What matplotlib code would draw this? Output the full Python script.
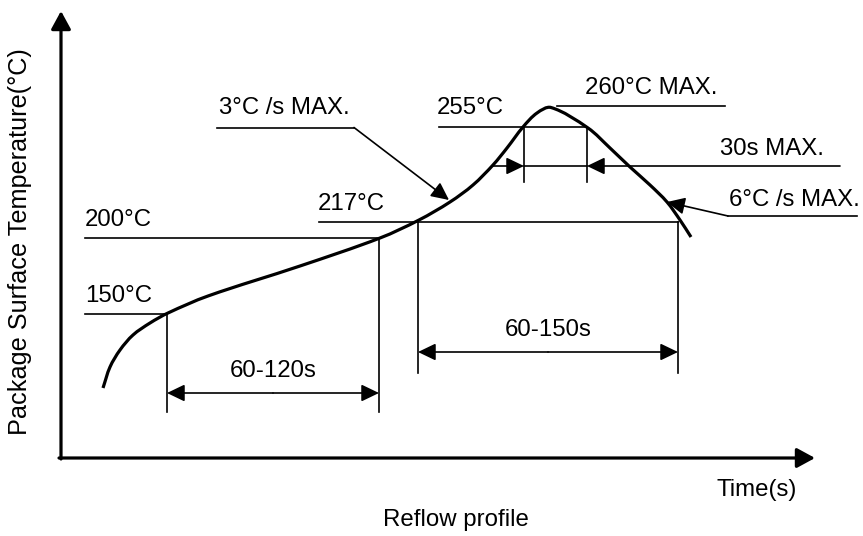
import matplotlib
matplotlib.use("Agg")
import matplotlib.pyplot as plt
from matplotlib.path import Path
from matplotlib.patches import PathPatch
import numpy as np

plt.rcParams['font.family'] = ['Liberation Sans', 'DejaVu Sans']

# Schematic coordinates (diagram units, y grows downward)
curve_x = [103, 110, 120, 133, 150, 168, 208, 300, 380, 419, 450, 473, 493, 507, 523, 537, 551, 588, 610, 630, 650, 667, 680, 691]
curve_y = [388, 367, 350, 335, 323, 313, 296, 266, 238, 220, 202, 185, 165, 148, 127, 113, 107.5, 128, 148, 167, 185, 202, 220, 237]

temp_labels = ["150°C", "200°C", "217°C", "255°C", "260°C MAX."]
temp_levels = [314, 238, 222, 127, 106]
temp_line_x0 = [85, 85, 319, 439, 557]
temp_line_x1 = [167, 379, 678, 587, 725]
temp_text_x = [85, 85, 318, 437, 585]

dur_labels = ["60-120s", "60-150s"]
dur_x0 = [167, 418]
dur_x1 = [379, 678]
dur_y = [393, 352]
dur_bottom = [412, 373]
dur_top = [[314, 238], [222, 222]]

FS = 17.3
FS_Y = 18.2
LW_THIN = 1.2
LW_THICK = 2.3

fig = plt.figure(figsize=(8.63, 5.36), dpi=100)
ax = fig.add_axes([0, 0, 1, 1])
ax.set_xlim(0, 863)
ax.set_ylim(536, 0)
ax.axis('off')

def arrow(p_from, p_to, lw=LW_THIN, hl=0.54, hw=0.26):
    ax.annotate('', xy=p_to, xytext=p_from,
                arrowprops=dict(arrowstyle=f'-|>,head_length={hl},head_width={hw}',
                                mutation_scale=20, lw=lw, color='black',
                                shrinkA=0, shrinkB=0, fc='black'))

# axes
arrow((61, 459), (61, 11), lw=LW_THICK, hl=0.55, hw=0.3)
arrow((59, 458), (815, 458), lw=LW_THICK, hl=0.55, hw=0.3)

# curve: smooth Bezier (chord-length Catmull-Rom tangents) through read points
P = np.column_stack([curve_x, curve_y]).astype(float)
n = len(P)
seg = np.hypot(*np.diff(P, axis=0).T)
t = np.concatenate([[0], np.cumsum(seg)])
T = np.zeros_like(P)
T[0] = (P[1] - P[0]) / (t[1] - t[0])
T[-1] = (P[-1] - P[-2]) / (t[-1] - t[-2])
for i in range(1, n - 1):
    T[i] = (P[i + 1] - P[i - 1]) / (t[i + 1] - t[i - 1])
verts = [P[0]]
codes = [Path.MOVETO]
for i in range(n - 1):
    h = t[i + 1] - t[i]
    verts += [P[i] + T[i] * h / 3, P[i + 1] - T[i + 1] * h / 3, P[i + 1]]
    codes += [Path.CURVE4] * 3
ax.add_patch(PathPatch(Path(verts, codes), fill=False, lw=LW_THICK, ec='black',
                       capstyle='butt', joinstyle='round'))

# temperature levels
for lab, y, x0, x1, tx in zip(temp_labels, temp_levels, temp_line_x0, temp_line_x1, temp_text_x):
    ax.plot([x0, x1], [y, y], color='black', lw=LW_THIN)
    ax.text(tx, y - 18.5, lab, fontsize=FS, ha='left', va='center')

# durations
for lab, x0, x1, y, yb, (t0, t1) in zip(dur_labels, dur_x0, dur_x1, dur_y, dur_bottom, dur_top):
    ax.plot([x0, x0], [t0, yb], color='black', lw=LW_THIN)
    ax.plot([x1, x1], [t1, yb], color='black', lw=LW_THIN)
    arrow(((x0 + x1) / 2, y), (x0, y))
    arrow(((x0 + x1) / 2, y), (x1, y))
    ax.text((x0 + x1) / 2, y - 22, lab, fontsize=FS, ha='center', va='center')

# 30s MAX.
ax.plot([524, 524], [127, 182], color='black', lw=LW_THIN)
ax.plot([587, 587], [127, 182], color='black', lw=LW_THIN)
ax.plot([524, 587], [166, 166], color='black', lw=LW_THIN)
arrow((493, 166), (524, 166))
arrow((840, 166), (587, 166))
ax.text(720, 149, "30s MAX.", fontsize=FS, ha='left', va='center')

# 3°C /s MAX.
ax.plot([217, 354], [127.5, 127.5], color='black', lw=LW_THIN)
arrow((354, 127.5), (449, 200))
ax.text(219, 108, "3°C /s MAX.", fontsize=FS, ha='left', va='center')

# 6°C /s MAX.
ax.plot([728, 857], [216, 216], color='black', lw=LW_THIN)
arrow((728, 216), (667, 202))
ax.text(729, 200, "6°C /s MAX.", fontsize=FS, ha='left', va='center')

# axis titles
ax.text(20, 242, "Package Surface Temperature(°C)", fontsize=FS_Y, rotation=90,
        ha='center', va='center')
ax.text(757, 490, "Time(s)", fontsize=FS, ha='center', va='center')
ax.text(456, 520, "Reflow profile", fontsize=FS, ha='center', va='center')

fig.savefig('out.png', dpi=100)
